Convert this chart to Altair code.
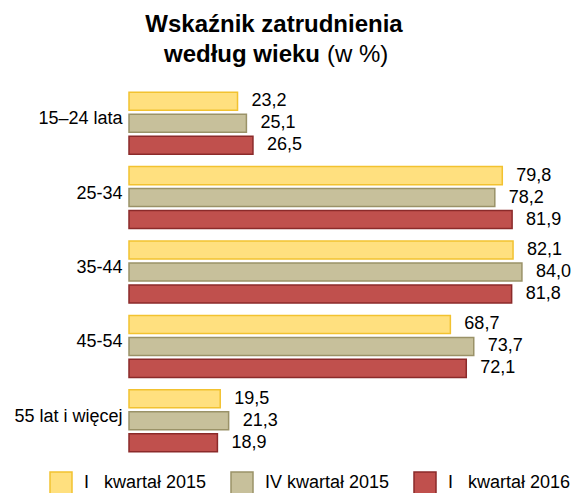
import altair as alt
import pandas as pd

groups = ["15–24 lata", "25-34", "35-44", "45-54", "55 lat i więcej"]
series = ["I\u00a0\u00a0\u00a0kwartał 2015", "IV kwartał 2015", "I\u00a0\u00a0\u00a0kwartał 2016"]
q1_2015 = [23.2, 79.8, 82.1, 68.7, 19.5]
q4_2015 = [25.1, 78.2, 84.0, 73.7, 21.3]
q1_2016 = [26.5, 81.9, 81.8, 72.1, 18.9]
fills = ["#FFE07F", "#C7C09B", "#C0504D"]
strokes = ["#F2C230", "#9A9268", "#8B2A2A"]

rows = []
for s, vals in zip(series, [q1_2015, q4_2015, q1_2016]):
    for g, v in zip(groups, vals):
        rows.append({"grupa": g, "okres": s, "wartosc": v,
                     "etykieta": f"{v:.1f}".replace(".", ",")})
df = pd.DataFrame(rows)

FONT = "Liberation Sans"

leg = alt.Legend(
    title=None, orient="none", legendX=-80, legendY=385, direction="horizontal",
    symbolType="square", symbolSize=484, symbolStrokeWidth=1.5, symbolOpacity=1,
    labelFontSize=18, labelFont=FONT, labelColor="black", labelOffset=11,
    columnPadding=21, labelLimit=300,
)

y = alt.Y("grupa:N", sort=groups, title=None,
          scale=alt.Scale(paddingInner=0.114, paddingOuter=0.057),
          axis=alt.Axis(domain=False, ticks=False, labelFontSize=18, labelColor="black",
                        labelPadding=7, labelOffset=-4, labelFont=FONT, labelLimit=250))
yoff = alt.YOffset("okres:N", sort=series,
                   scale=alt.Scale(paddingInner=0.18, paddingOuter=0.09))
x = alt.X("wartosc:Q", scale=alt.Scale(domain=[0, 90]), axis=None)
color = alt.Color("okres:N", sort=series, scale=alt.Scale(domain=series, range=fills), legend=leg)
stroke = alt.Stroke("okres:N", sort=series, scale=alt.Scale(domain=series, range=strokes), legend=leg)

bars = alt.Chart(df).mark_bar(strokeWidth=1.5).encode(
    x=x, y=y, yOffset=yoff, color=color, stroke=stroke
)
labels = alt.Chart(df).mark_text(
    align="left", baseline="middle", dx=14, fontSize=18, font=FONT, color="black"
).encode(x=x, y=y, yOffset=yoff, text="etykieta")

tdf = pd.DataFrame({"line1": ["Wskaźnik zatrudnienia"], "line2a": ["według wieku"], "line2b": ["(w %)"]})
t1 = alt.Chart(tdf).mark_text(align="center", baseline="alphabetic", fontSize=24,
                              fontWeight="bold", font=FONT, color="black").encode(
    x=alt.value(145), y=alt.value(-54), text="line1:N")
t2 = alt.Chart(tdf).mark_text(align="right", baseline="alphabetic", fontSize=24,
                              fontWeight="bold", font=FONT, color="black").encode(
    x=alt.value(191), y=alt.value(-24), text="line2a:N")
t3 = alt.Chart(tdf).mark_text(align="left", baseline="alphabetic", fontSize=24,
                              fontWeight="normal", font=FONT, color="black").encode(
    x=alt.value(198), y=alt.value(-24), text="line2b:N")

chart = alt.layer(bars, labels, t1, t2, t3).properties(
    width=421, height=372,
    autosize=alt.AutoSizeParams(type="none"),
    padding={"left": 121, "top": 78, "right": 24, "bottom": 35},
).configure_view(stroke=None)

chart.save("out.html", embed_options={"renderer": "svg", "actions": False})
